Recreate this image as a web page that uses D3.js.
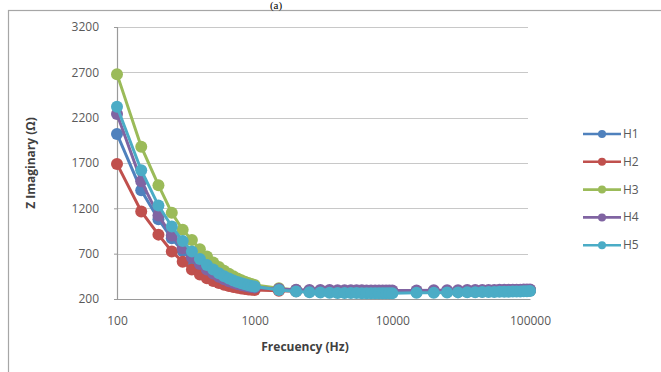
<!DOCTYPE html>
<html><head><meta charset="utf-8">
<script src="https://cdn.jsdelivr.net/npm/d3@7"></script>
<style>body{margin:0;background:#fff}svg{display:block}</style>
</head><body><svg id="c" width="661" height="372"></svg>
<script>
const freqs = [100,150,200,250,300,350,400,450,500,550,600,650,700,750,800,850,900,950,1000,
  1500,2000,2500,3000,3500,4000,4500,5000,5500,6000,6500,7000,7500,8000,8500,9000,9500,10000,
  15000,20000,25000,30000,35000,40000,45000,50000,55000,60000,65000,70000,75000,80000,85000,90000,95000,100000];
const seriesNames = ["H1","H2","H3","H4","H5"];
const H1 = [2020,1400,1080,870,730,630,560,505,465,430,405,385,370,358,348,340,334,328,323,
  300,292,288,286,284,283,282,281,281,280,280,279,279,279,278,278,278,278,
  280,281,282,283,284,285,286,287,288,289,290,291,292,293,294,295,296,297];
const H2 = [1690,1165,910,725,610,525,470,428,398,376,358,344,333,324,317,311,306,302,298,
  290,286,284,282,281,280,280,279,279,278,278,278,277,277,277,277,276,276,
  278,279,280,281,282,283,284,285,286,287,288,289,290,291,292,293,294,295];
const H3 = [2680,1880,1455,1150,963,850,750,668,603,552,511,478,450,427,407,391,377,365,355,
  318,300,292,288,286,285,284,283,283,282,282,281,281,281,280,280,280,280,
  282,283,284,285,286,287,288,289,290,291,292,293,294,295,296,297,298,299];
const H4 = [2240,1500,1120,900,760,660,585,525,480,445,418,397,380,366,355,346,338,332,326,
  310,303,300,299,298,297,297,296,296,296,295,295,295,295,295,294,294,294,
  295,296,297,297,298,299,299,300,300,301,301,302,302,303,303,304,304,305];
const H5 = [2320,1620,1230,1000,840,725,640,575,525,485,452,427,405,388,374,362,352,344,337,
  300,283,275,271,268,267,266,265,265,264,264,264,263,263,263,263,263,263,
  268,270,272,273,274,275,276,277,278,279,280,281,282,283,284,285,286,287];
const seriesValues = [H1,H2,H3,H4,H5];
const colors = ["#4F81BD","#C0504D","#9BBB59","#8064A2","#4BACC6"];
const yTicks = [200,700,1200,1700,2200,2700,3200];
const xTicks = [100,1000,10000,100000];

const svg = d3.select("#c");
const font = "'Open Sans', 'Liberation Sans', sans-serif";
// frame
svg.append("rect").attr("x",8.5).attr("y",10.5).attr("width",700).attr("height",400)
  .attr("fill","none").attr("stroke","#a6a6a6").attr("stroke-width",1.2);
svg.append("text").attr("x",276).attr("y",9).attr("text-anchor","middle")
  .attr("font-family","'Liberation Serif', serif").attr("font-size",11).attr("fill","#000").text("(a)");

const x = d3.scaleLog().domain([100,100000]).range([117,530]);
const y = d3.scaleLinear().domain([200,3200]).range([299,27]);

// gridlines
svg.append("g").selectAll("line").data(yTicks.slice(1)).join("line")
  .attr("x1",117).attr("x2",528).attr("y1",d=>Math.round(y(d))+0.5).attr("y2",d=>Math.round(y(d))+0.5)
  .attr("stroke","#c8c8c8").attr("stroke-width",1.2);

// axes
const yAxis = svg.append("g").attr("transform","translate(117,0)")
  .call(d3.axisLeft(y).tickValues(yTicks).tickSize(3).tickPadding(15).tickFormat(d3.format("d")));
const xAxis = svg.append("g").attr("transform","translate(0,299)")
  .call(d3.axisBottom(x).tickValues(xTicks).tickSize(0).tickPadding(17).tickFormat(d3.format("d")));
[yAxis,xAxis].forEach(g=>{
  g.select(".domain").attr("stroke","#9a9a9a").attr("stroke-width",1.2);
  g.selectAll(".tick line").attr("stroke","#9a9a9a");
  g.selectAll("text").attr("font-family",font).attr("font-size",12).attr("fill","#595959");
});

// series
const line = d3.line().x((d,i)=>x(freqs[i])).y(d=>y(d));
seriesValues.forEach((vals,si)=>{
  const g = svg.append("g");
  g.append("path").datum(vals).attr("d",line).attr("fill","none")
    .attr("stroke",colors[si]).attr("stroke-width",3);
  g.selectAll("circle").data(vals).join("circle")
    .attr("cx",(d,i)=>x(freqs[i])).attr("cy",d=>y(d)).attr("r",6)
    .attr("fill",colors[si]);
});

// axis titles
svg.append("text").attr("x",305).attr("y",351).attr("text-anchor","middle")
  .attr("font-family",font).attr("font-size",12).attr("font-weight","bold").attr("fill","#404040")
  .text("Frecuency (Hz)");
svg.append("text").attr("transform","translate(35,163) rotate(-90)").attr("text-anchor","middle")
  .attr("font-family",font).attr("font-size",12).attr("font-weight","bold").attr("fill","#404040")
  .text("Z Imaginary (Ω)");

// legend
const leg = svg.append("g");
seriesNames.forEach((n,i)=>{
  const ly = 134 + i*27.8;
  leg.append("line").attr("x1",583).attr("x2",621).attr("y1",ly).attr("y2",ly)
    .attr("stroke",colors[i]).attr("stroke-width",2.6);
  leg.append("circle").attr("cx",602).attr("cy",ly).attr("r",4).attr("fill",colors[i]);
  leg.append("text").attr("x",623).attr("y",ly+4).attr("font-family",font).attr("font-size",12)
    .attr("fill","#595959").text(n);
});
</script></body></html>
